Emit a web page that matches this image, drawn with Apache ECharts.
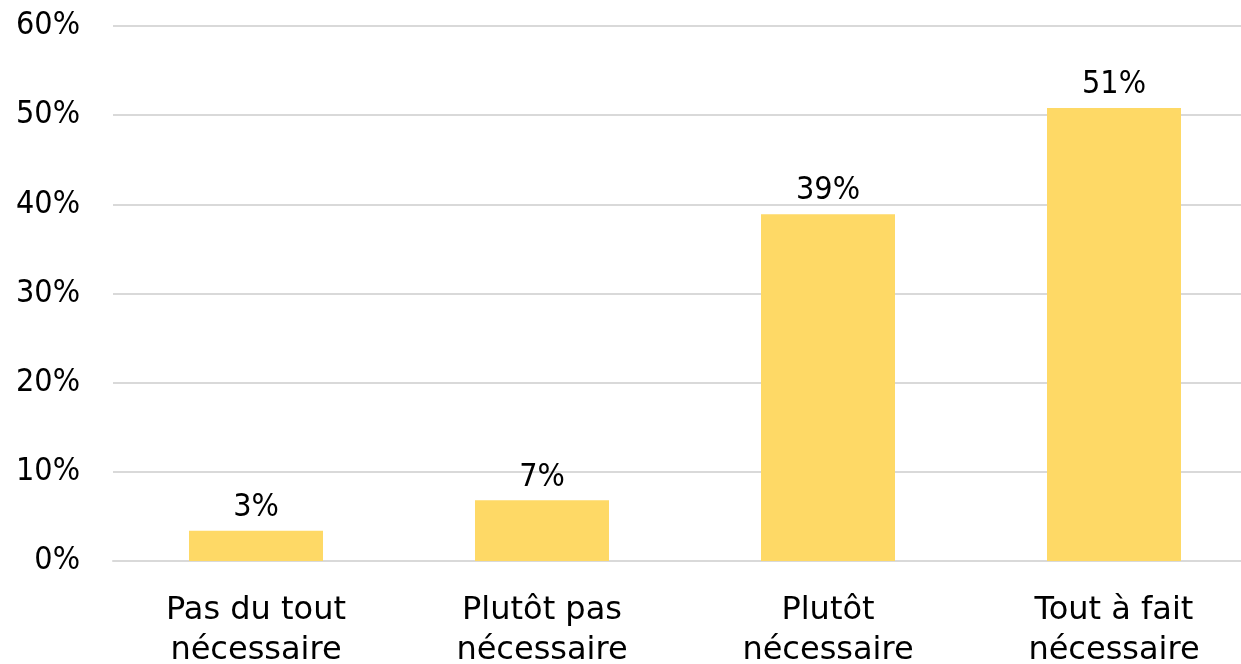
<!DOCTYPE html>
<html>
<head>
<meta charset="utf-8">
<script src="https://cdn.jsdelivr.net/npm/echarts@6/dist/echarts.min.js"></script>
<style>
  html, body { margin: 0; padding: 0; background: #fff; }
  #main { width: 1241px; height: 664px; }
</style>
</head>
<body>
<div id="main"></div>
<script>
var categories = ['Pas du tout\nnécessaire', 'Plutôt pas\nnécessaire', 'Plutôt\nnécessaire', 'Tout à fait\nnécessaire'];
var values = [3.4, 6.8, 38.9, 50.8];
var yTicks = [0, 10, 20, 30, 40, 50, 60];

var myChart = echarts.init(document.getElementById('main'));

var option = {
  animation: false,
  grid: {
    left: 113,
    width: 1144,
    top: 26,
    height: 535,
    outerBoundsMode: 'none',
    containLabel: false
  },
  xAxis: {
    type: 'category',
    data: categories,
    axisTick: { show: false },
    axisLine: { lineStyle: { color: '#d9d9d9', width: 2 } },
    axisLabel: {
      color: '#000',
      fontFamily: 'DejaVu Sans',
      fontSize: 32,
      lineHeight: 40,
      margin: 30
    }
  },
  yAxis: {
    type: 'value',
    min: yTicks[0],
    max: yTicks[yTicks.length - 1],
    interval: 10,
    axisLabel: {
      color: '#000',
      fontFamily: 'DejaVu Sans Condensed',
      fontSize: 32,
      margin: 33,
      padding: [4, 0, 0, 0],
      formatter: '{value}%'
    },
    splitLine: { lineStyle: { color: '#d9d9d9', width: 2 } }
  },
  series: [{
    type: 'bar',
    data: values,
    barWidth: 134,
    itemStyle: { color: '#FED966' },
    label: {
      show: true,
      position: 'top',
      distance: 7,
      color: '#000',
      fontFamily: 'DejaVu Sans Condensed',
      fontSize: 32,
      formatter: function (p) { return Math.round(p.value) + '%'; }
    }
  }]
};

myChart.setOption(option);
</script>
</body>
</html>
